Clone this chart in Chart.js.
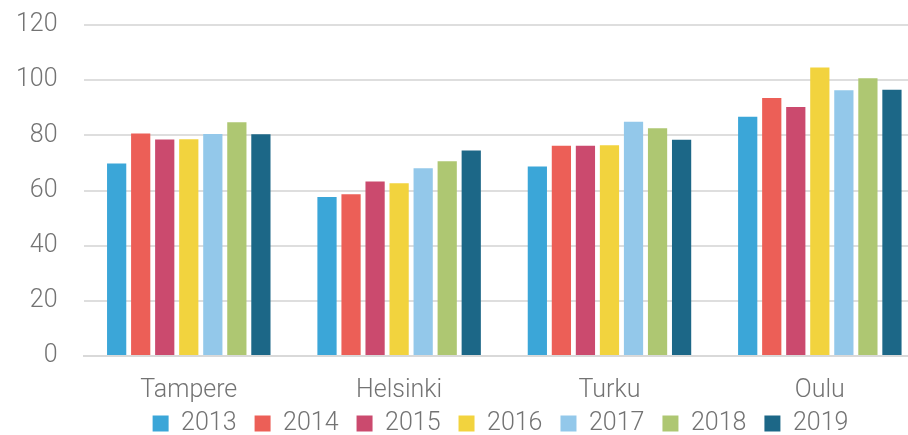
<!DOCTYPE html>
<html>
<head>
<meta charset="utf-8">
<script src="https://cdn.jsdelivr.net/npm/chart.js@4/dist/chart.umd.min.js"></script>
<style>
  html, body { margin: 0; padding: 0; background: #fff; overflow: hidden; }
  #wrap { width: 1000px; height: 435px; position: relative; }
</style>
</head>
<body>
<div id="wrap"><canvas id="chart"></canvas></div>
<script>
const cities = ['Tampere', 'Helsinki', 'Turku', 'Oulu'];
const years = ['2013', '2014', '2015', '2016', '2017', '2018', '2019'];
const colors = ['#3ba6d8', '#ec5f57', '#cb4a6e', '#f2d33e', '#93c8ea', '#aec772', '#1c6787'];

// one array per year: Tampere, Helsinki, Turku, Oulu
const v2013 = [69.8, 57.6, 68.7, 86.7];
const v2014 = [80.7, 58.6, 76.2, 93.5];
const v2015 = [78.5, 63.3, 76.2, 90.3];
const v2016 = [78.6, 62.6, 76.4, 104.6];
const v2017 = [80.5, 68.1, 84.9, 96.3];
const v2018 = [84.7, 70.6, 82.6, 100.7];
const v2019 = [80.4, 74.5, 78.4, 96.5];
const values = [v2013, v2014, v2015, v2016, v2017, v2018, v2019];

const yTicks = [0, 20, 40, 60, 80, 100, 120];

const textColor = '#737373';
const font = { family: 'Roboto, "Open Sans", sans-serif', size: 25, weight: '300' };

// the legend sits centred on the full (cropped) figure, nudge it
const legendShift = {
    id: 'legendShift',
    afterLayout(chart) {
        const l = chart.legend;
        l.left += 30; l.right += 30;
        l.top -= 13; l.bottom -= 13;
    }
};

new Chart(document.getElementById('chart'), {
    type: 'bar',
    data: {
        labels: cities,
        datasets: years.map((y, i) => ({
            label: y,
            data: values[i],
            backgroundColor: colors[i],
            categoryPercentage: 0.8,
            barPercentage: 0.8
        }))
    },
    options: {
        responsive: true,
        maintainAspectRatio: false,
        animation: false,
        layout: { padding: { left: 16, right: 75, top: 25, bottom: -24 } },
        plugins: {
            legend: {
                display: true,
                position: 'bottom',
                labels: {
                    color: textColor,
                    font: font,
                    boxWidth: 16,
                    boxHeight: 16,
                    padding: 18
                }
            },
            tooltip: { enabled: false }
        },
        scales: {
            x: {
                grid: { display: false, drawTicks: false },
                border: { display: true, color: '#d9d9d9', width: 2 },
                ticks: { color: textColor, font: font, padding: 20 },
                afterFit: axis => { axis.height = 50; }
            },
            y: {
                min: 0,
                max: 120,
                afterBuildTicks: axis => { axis.ticks = yTicks.map(v => ({ value: v })); },
                grid: { color: '#dedede', lineWidth: 2, drawTicks: false },
                border: { display: false },
                ticks: { color: textColor, font: font, padding: 26 },
                afterFit: axis => {
                    axis.width -= axis.options.ticks.padding;
                    axis.paddingTop = 15;
                    axis.paddingBottom = 15;
                }
            }
        }
    },
    plugins: [legendShift]
});
</script>
</body>
</html>
